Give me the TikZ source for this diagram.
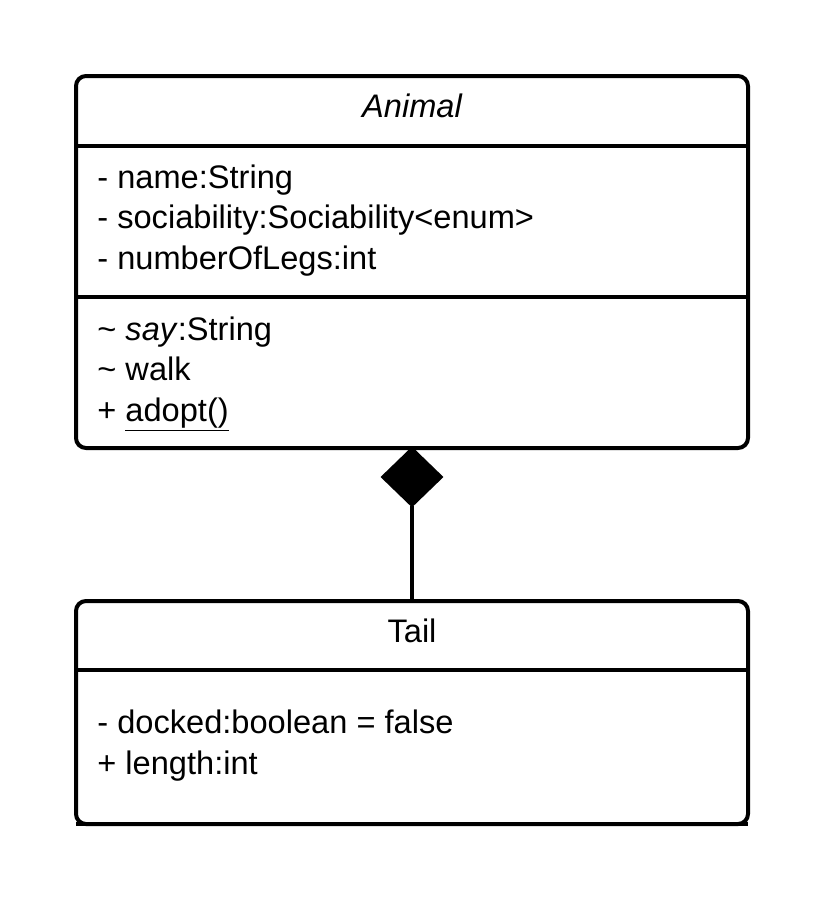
\documentclass[tikz,border=0pt]{standalone}
\usepackage{fontspec}
\setmainfont{Liberation Sans}
\usetikzlibrary{shapes.geometric, positioning}
\tikzset{
  classbox/.style={draw, line width=2pt, rounded corners=5pt, minimum width=336pt, inner sep=0pt, outer sep=0pt},
  member/.style={anchor=base west, inner sep=0pt, font=\fontsize{16.3}{19}\selectfont},
  divider/.style={line width=2pt},
}

\begin{document}
\begin{tikzpicture}[x=0.5pt, y=-0.5pt]
  \useasboundingbox (0,0) rectangle (825,900);
  % Animal class
  \node[classbox, minimum height=186pt, anchor=north west] (animal) at (76,76) {};
  \draw[divider] (animal.west |- 0,146) -- (animal.east |- 0,146);
  \draw[divider] (animal.west |- 0,297) -- (animal.east |- 0,297);
  \node[member, anchor=base, font=\fontsize{16.3}{19}\selectfont\itshape] (animaltitle) at (412,117) {Animal};
  \node[member] (attrname) at (97,188) {- name:String};
  \node[member] (attrsoc) at (97,228.5) {- sociability:Sociability<enum>};
  \node[member] (attrlegs) at (97,269) {- numberOfLegs:int};
  \node[member] (opsay) at (97,340) {\textasciitilde{} \textit{say}:String};
  \node[member] (opwalk) at (97,380.5) {\textasciitilde{} walk};
  \node[member] (opadopt) at (97,421) {+ \underline{adopt()}};
  % composition
  \node[diamond, draw, fill, line width=1pt, minimum width=30pt, minimum height=29pt, inner sep=0pt, outer sep=0pt, anchor=north] (comp) at (animal.south) {};
  % Tail class
  \node[classbox, minimum height=111.5pt, anchor=north west] (tail) at (76,601) {};
  \draw[divider] (tail.west |- 0,670) -- (tail.east |- 0,670);
  \draw[divider] (tail.south west) -- (tail.south east);
  \node[member, anchor=base] (tailtitle) at (412,642) {Tail};
  \node[member] (attrdocked) at (97,733) {- docked:boolean = false};
  \node[member] (attrlength) at (97,774) {+ length:int};
  \draw[divider] (comp.south) -- (tail.north);
\end{tikzpicture}
\end{document}
